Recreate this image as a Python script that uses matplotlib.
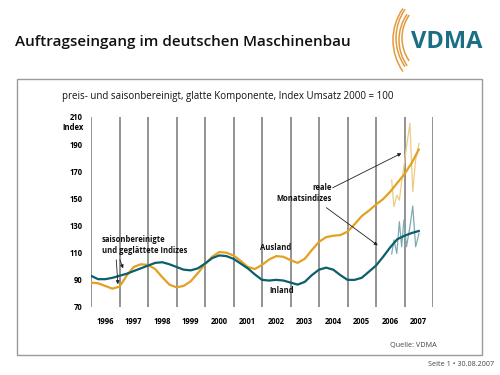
import matplotlib
matplotlib.use("Agg")
import matplotlib.pyplot as plt
from matplotlib.patches import Arc, Rectangle

plt.rcParams['font.family'] = ['Open Sans', 'DejaVu Sans']

# ---- data ----
years_q = [1996.0 + 0.25 * i for i in range(47)]
inland = [93.0, 90.5, 90.5, 91.5, 93.0, 94.5, 96.5, 98.5, 100.5, 102.5, 103.0, 101.5,
          99.5, 97.5, 97.0, 98.5, 102.0, 106.0, 108.0, 107.5, 105.5, 102.0, 98.5, 94.0,
          90.0, 89.5, 90.0, 89.5, 88.0, 86.5, 88.5, 93.5, 97.5, 99.0, 97.5, 93.5,
          90.0, 90.0, 91.5, 96.0, 100.5, 107.0, 114.0, 120.0, 122.5, 124.5, 126.0]
ausland = [88.0, 87.5, 85.5, 83.5, 85.0, 93.0, 99.5, 101.5, 101.0, 98.0, 92.0, 86.5,
           84.5, 85.5, 89.0, 95.0, 101.5, 107.0, 110.5, 110.0, 108.0, 104.0, 99.5, 98.0,
           101.0, 105.0, 107.5, 107.0, 104.5, 102.5, 105.5, 112.0, 118.0, 121.5, 122.5, 123.0,
           125.5, 131.0, 137.0, 141.0, 145.5, 149.5, 155.0, 161.5, 168.0, 176.0, 186.0]
years_m = [2006.55, 2006.63, 2006.73, 2006.82, 2006.90, 2006.98, 2007.07,
           2007.19, 2007.29, 2007.39, 2007.51]
ausland_m = [163.6, 143.9, 152.4, 148.7, 162.3, 173.4, 188.0, 205.3, 154.9, 178.3, 190.5]
inland_m = [109.0, 119.4, 109.5, 132.9, 114.4, 134.1, 114.4, 129.2, 144.4, 114.4, 124.3]
year_labels = [str(y) for y in range(1996, 2008)]
y_ticks = [70, 90, 110, 130, 150, 170, 190, 210]

ORANGE = '#E3A021'
TEAL = '#0B5E6C'
ORANGE_L = '#EDCB84'
TEAL_L = '#7FA9B2'

fig = plt.figure(figsize=(5, 3.75), dpi=100)

# background overlay in pixel coords
bg = fig.add_axes([0, 0, 1, 1], zorder=0)
bg.set_xlim(0, 500)
bg.set_ylim(375, 0)
bg.axis('off')
bg.add_patch(Rectangle((17, 79), 465, 276, fill=False, edgecolor='#9a9a9a', lw=1.0))
bg.text(15, 42, 'Auftragseingang im deutschen Maschinenbau', fontsize=11,
        fontweight='semibold', va='center', ha='left', color='#111111')
bg.text(62, 97, 'preis- und saisonbereinigt, glatte Komponente, Index Umsatz 2000 = 100',
        fontsize=7, va='center', ha='left', color='#111111')
bg.text(437, 346, 'Quelle: VDMA', fontsize=5.2, va='center', ha='right', color='#444444')
bg.text(494, 364, 'Seite 1 \u2022 30.08.2007', fontsize=5.2, va='center', ha='right', color='#444444')
# logo
bg.text(482, 42, 'VDMA', fontsize=17, fontweight='bold', va='center', ha='right', color='#1B6E84')
for r, c in zip([40, 45, 50, 55], [(442, 38), (444, 40), (446, 38), (448, 40)]):
    bg.add_patch(Arc(c, 2 * r, 2 * r, theta1=145, theta2=215, color='#E49A3A', lw=1.1))

# main axes
ax = fig.add_axes([91 / 500, 1 - 307 / 375, 342 / 500, 190 / 375], zorder=1)
ax.patch.set_alpha(0)
ax.set_xlim(1996, 2008)
ax.set_ylim(70, 210)
for s in ax.spines.values():
    s.set_visible(False)
for yr in range(1996, 2009):
    ax.axvline(yr, color='#8a8a8a', lw=1.3, zorder=1)

ax.plot(years_m, ausland_m, color=ORANGE_L, lw=0.9, zorder=2)
ax.plot(years_m, inland_m, color=TEAL_L, lw=0.9, zorder=2)
ax.plot(years_q, ausland, color=ORANGE, lw=1.6, zorder=3)
ax.plot(years_q, inland, color=TEAL, lw=1.6, zorder=3)

ax.set_yticks(y_ticks)
ax.set_yticklabels([str(v) for v in y_ticks], fontsize=5.5, fontweight='bold')
ax.set_xticks([y + 0.5 for y in range(1996, 2008)])
ax.set_xticklabels(year_labels, fontsize=5.5, fontweight='bold')
ax.tick_params(axis='both', length=0)
ax.tick_params(axis='y', pad=6)
ax.tick_params(axis='x', pad=7)
ax.text(-0.022, 202, 'Index', transform=ax.get_yaxis_transform(), fontsize=5.5,
        fontweight='bold', ha='right', va='center')

tk = dict(fontsize=5.5, fontweight='bold', color='#111111')
ax.text(1996.39, 119.4, 'saisonbereinigte', ha='left', va='center', **tk)
ax.text(1996.39, 111.3, 'und geglättete Indizes', ha='left', va='center', **tk)
ap = dict(arrowstyle='-|>', color='#222222', lw=0.6, mutation_scale=5)
ax.annotate('', xy=(1996.95, 84.7), xytext=(1996.88, 106.8), arrowprops=ap)
ax.annotate('', xy=(1997.16, 96.5), xytext=(1996.98, 106.8), arrowprops=ap)

ax.text(2004.46, 157.7, 'reale', ha='right', va='center', **tk)
ax.text(2004.46, 149.6, 'Monatsindizes', ha='right', va='center', **tk)
ax.annotate('', xy=(2006.98, 184.2), xytext=(2004.39, 156.9), arrowprops=ap)
ax.annotate('', xy=(2006.14, 114.2), xytext=(2004.18, 144.4), arrowprops=ap)

ax.text(2002.49, 114.2, 'Ausland', ha='center', va='center', **tk)
ax.text(2002.70, 81.8, 'Inland', ha='center', va='center', **tk)

fig.savefig('out.png', dpi=100)
